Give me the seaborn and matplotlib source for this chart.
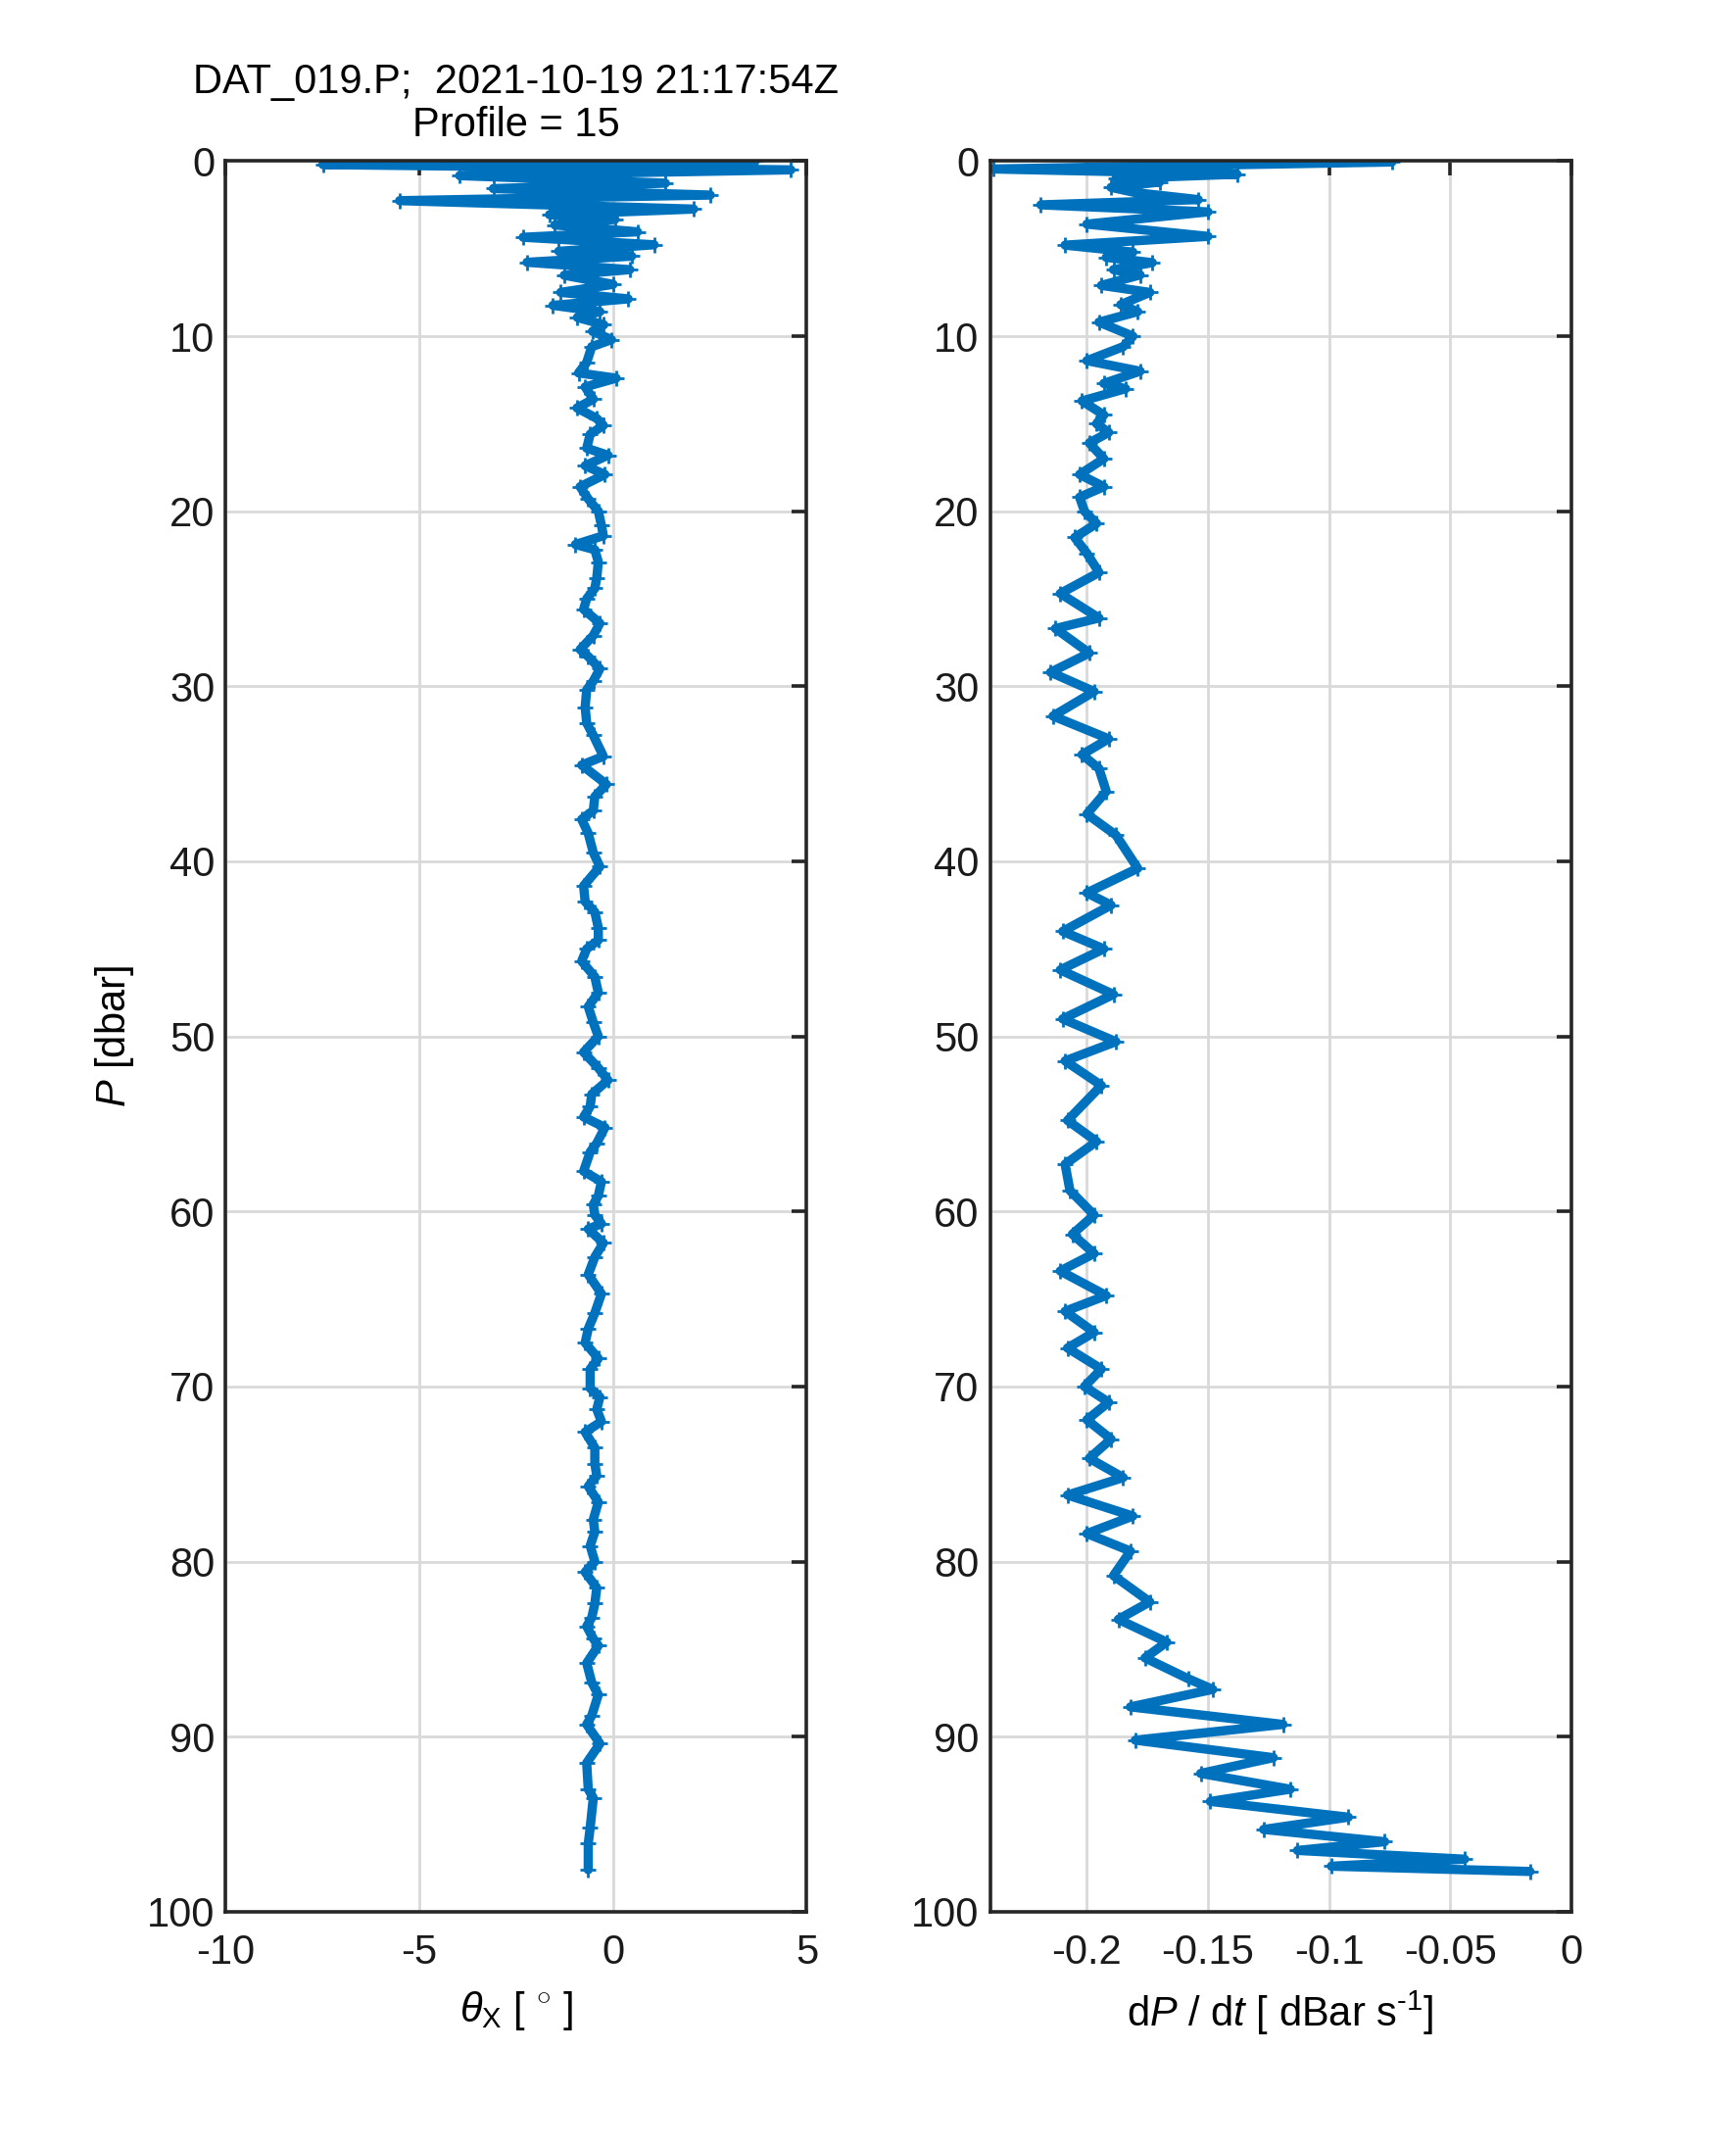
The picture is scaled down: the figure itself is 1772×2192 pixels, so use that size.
import numpy as np
import pandas as pd
import matplotlib
matplotlib.use('Agg')
import matplotlib.pyplot as plt
import seaborn as sns

# Profile 15 of DAT_019.P
title_text = 'DAT_019.P;  2021-10-19 21:17:54Z\nProfile = 15'

# pressure [dbar] and pitch angle theta_X [deg]
p_theta = [0.0, 0.2, 0.5, 0.83, 1.26, 1.57, 1.94, 2.26, 2.74, 3.06,
           3.33, 3.65, 4.04, 4.35, 4.78, 5.15, 5.43, 5.78, 6.2, 6.52,
           7.04, 7.5, 7.87, 8.24, 8.6, 8.93, 9.35, 9.72, 10.2, 10.6,
           11.5, 12.1, 12.4, 12.9, 13.6, 14.1, 14.7, 15.1, 15.6, 16.4,
           16.8, 17.4, 17.9, 18.6, 19.3, 20.0, 20.8, 21.4, 21.9, 22.2,
           22.9, 23.8, 24.4, 25.0, 25.6, 26.4, 27.1, 27.9, 28.3, 29.0,
           29.7, 30.2, 31.2, 32.1, 32.8, 34.0, 34.5, 35.6, 36.3, 37.1,
           37.6, 38.4, 39.5, 40.3, 41.4, 42.3, 42.9, 43.8, 44.5, 45.0,
           45.7, 46.6, 47.5, 48.3, 49.2, 50.0, 50.9, 51.8, 52.5, 53.3,
           54.0, 54.6, 55.2, 56.1, 56.6, 57.7, 58.3, 59.1, 59.6, 60.2,
           60.7, 61.0, 61.8, 62.6, 63.6, 64.7, 65.8, 66.7, 67.5, 68.4,
           69.0, 70.1, 70.6, 71.3, 72.0, 72.6, 73.5, 74.4, 75.1, 75.7,
           76.6, 77.6, 78.3, 79.1, 80.0, 80.6, 81.5, 82.4, 83.2, 83.7,
           84.4, 84.8, 85.8, 86.9, 87.6, 88.8, 89.3, 90.4, 91.5, 93.0,
           93.5, 95.2, 96.1, 97.6]
theta_x = [3.67, -7.49, 4.59, -3.96, 1.35, -3.09, 2.51, -5.51, 2.08, -1.64,
           0.05, -1.50, 0.63, -2.32, 1.06, -1.40, 0.48, -2.22, 0.43, -1.26,
           0.0, -1.35, 0.39, -1.55, -0.34, -0.92, -0.24, -0.53, -0.04, -0.55,
           -0.68, -0.89, 0.08, -0.72, -0.51, -0.93, -0.42, -0.25, -0.59, -0.68,
           -0.13, -0.72, -0.21, -0.85, -0.64, -0.38, -0.30, -0.25, -0.97, -0.47,
           -0.38, -0.42, -0.47, -0.68, -0.76, -0.34, -0.51, -0.85, -0.64, -0.34,
           -0.51, -0.68, -0.72, -0.68, -0.51, -0.25, -0.81, -0.17, -0.47, -0.51,
           -0.81, -0.64, -0.51, -0.34, -0.76, -0.72, -0.47, -0.38, -0.38, -0.68,
           -0.81, -0.47, -0.38, -0.64, -0.51, -0.38, -0.76, -0.38, -0.13, -0.55,
           -0.59, -0.76, -0.21, -0.42, -0.59, -0.76, -0.30, -0.38, -0.51, -0.47,
           -0.30, -0.64, -0.25, -0.47, -0.64, -0.30, -0.47, -0.64, -0.72, -0.38,
           -0.59, -0.59, -0.34, -0.42, -0.30, -0.72, -0.47, -0.47, -0.42, -0.64,
           -0.38, -0.51, -0.47, -0.59, -0.47, -0.72, -0.42, -0.47, -0.55, -0.68,
           -0.51, -0.38, -0.68, -0.55, -0.38, -0.55, -0.68, -0.34, -0.68, -0.64,
           -0.51, -0.59, -0.64, -0.64]

# pressure [dbar] and fall rate dP/dt [dBar/s]
p_rate = [0.05, 0.45, 0.75, 1.0, 1.2, 1.5, 1.8, 2.2, 2.5, 2.9,
          3.6, 4.3, 4.8, 5.2, 5.5, 5.8, 6.2, 6.5, 7.1, 7.5,
          8.2, 8.6, 9.2, 10.0, 10.6, 11.4, 12.0, 12.7, 13.0, 13.7,
          14.5, 15.0, 15.5, 16.1, 17.0, 17.9, 18.6, 19.2, 20.0, 20.7,
          21.5, 22.4, 23.5, 24.7, 26.1, 26.7, 28.1, 29.2, 30.3, 31.7,
          33.0, 33.9, 34.7, 36.0, 37.3, 38.5, 40.4, 41.8, 42.5, 44.0,
          45.0, 46.2, 47.6, 49.0, 50.3, 51.4, 52.8, 54.8, 56.0, 57.3,
          58.8, 60.2, 61.3, 62.4, 63.4, 64.8, 65.7, 66.9, 67.8, 69.0,
          70.0, 70.9, 71.9, 73.0, 74.1, 75.2, 76.2, 77.4, 78.4, 79.4,
          80.8, 82.3, 83.3, 84.6, 85.5, 86.7, 87.3, 88.3, 89.3, 90.2,
          91.2, 92.1, 93.0, 93.7, 94.6, 95.3, 96.0, 96.5, 97.0, 97.4,
          97.7]
dpdt = [-0.074, -0.2386, -0.138, -0.188, -0.170, -0.190, -0.180, -0.154, -0.219, -0.150,
        -0.200, -0.150, -0.209, -0.181, -0.192, -0.173, -0.189, -0.178, -0.194, -0.174,
        -0.186, -0.179, -0.195, -0.181, -0.185, -0.200, -0.178, -0.193, -0.184, -0.202,
        -0.193, -0.196, -0.191, -0.199, -0.193, -0.203, -0.193, -0.203, -0.201, -0.196,
        -0.205, -0.200, -0.195, -0.211, -0.195, -0.213, -0.199, -0.215, -0.197, -0.214,
        -0.191, -0.202, -0.195, -0.192, -0.200, -0.188, -0.179, -0.200, -0.190, -0.210,
        -0.193, -0.211, -0.189, -0.210, -0.188, -0.209, -0.194, -0.208, -0.196, -0.209,
        -0.207, -0.197, -0.206, -0.197, -0.211, -0.192, -0.209, -0.197, -0.208, -0.194,
        -0.201, -0.191, -0.200, -0.190, -0.199, -0.185, -0.208, -0.181, -0.200, -0.182,
        -0.189, -0.174, -0.187, -0.167, -0.176, -0.158, -0.148, -0.182, -0.119, -0.180,
        -0.123, -0.153, -0.116, -0.149, -0.092, -0.127, -0.077, -0.113, -0.044, -0.099,
        -0.017]

p_ticks = list(range(0, 101, 10))
theta_ticks = [-10, -5, 0, 5]
rate_ticks = [-0.2, -0.15, -0.1, -0.05, 0]
rate_tick_labels = ['-0.2', '-0.15', '-0.1', '-0.05', '0']

sns.set_style('white')
plt.rcParams['font.family'] = ['Liberation Sans', 'DejaVu Sans']
plt.rcParams['mathtext.fontset'] = 'custom'
plt.rcParams['mathtext.rm'] = 'Liberation Sans'
plt.rcParams['mathtext.it'] = 'Liberation Sans:italic'
plt.rcParams['mathtext.bf'] = 'Liberation Sans:bold'
plt.rcParams['text.color'] = 'black'
plt.rcParams['axes.labelcolor'] = 'black'

line_col = '#0072BD'
ax_col = '#262626'
fs = 15

fig = plt.figure(figsize=(8.86, 10.96), dpi=200)
ax1 = fig.add_axes([0.13, 0.11, 0.3347, 0.815])
ax2 = fig.add_axes([0.5703, 0.11, 0.3347, 0.815])

sns.lineplot(x=theta_x, y=p_theta, sort=False, estimator=None, ax=ax1,
             color=line_col, linewidth=3.4, marker='+', markersize=6,
             markeredgewidth=1.0, markeredgecolor=line_col)
sns.lineplot(x=dpdt, y=p_rate, sort=False, estimator=None, ax=ax2,
             color=line_col, linewidth=3.4, marker='+', markersize=6,
             markeredgewidth=1.0, markeredgecolor=line_col)

ax1.set_xlim(-10, 5)
ax1.set_xticks(theta_ticks)
ax1.set_xticklabels([str(t) for t in theta_ticks])
ax2.set_xlim(-0.24, 0)
ax2.set_xticks(rate_ticks)
ax2.set_xticklabels(rate_tick_labels)

for ax in (ax1, ax2):
    ax.set_ylim(100, 0)
    ax.set_yticks(p_ticks)
    ax.set_yticklabels([str(t) for t in p_ticks])
    ax.grid(True, color='#d9d9d9', linewidth=1.0)
    ax.set_axisbelow(True)
    for s in ax.spines.values():
        s.set_color(ax_col)
        s.set_linewidth(1.3)
        s.set_zorder(5)
    ax.tick_params(direction='in', length=5.5, width=1.3, color=ax_col,
                   top=True, right=True, labelsize=fs, labelcolor='#1a1a1a')
    ax.tick_params(axis='x', pad=8)
    ax.tick_params(axis='y', pad=4)

ax1.set_ylabel(r'$P$ [dbar]', fontsize=fs, labelpad=4)
ax2.set_ylabel('')
ax1.set_xlabel(r'$\theta_{\mathrm{X}}$ [ $^{\circ}$ ]', fontsize=fs, labelpad=6)
ax2.set_xlabel(r'd$P$ / d$t$ [ dBar s$^{\text{-1}}$]', fontsize=fs, labelpad=6)
ax1.set_title(title_text, fontsize=fs, pad=9, linespacing=1.15)

fig.savefig('out.png', dpi=200, facecolor='white')
